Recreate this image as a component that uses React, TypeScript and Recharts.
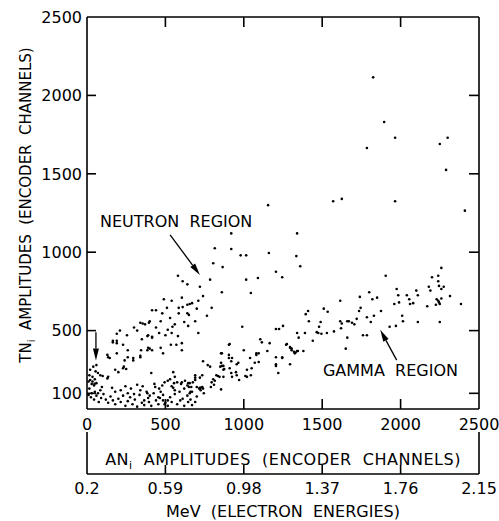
import { ScatterChart, Scatter, XAxis, YAxis, ReferenceLine, ReferenceDot } from 'recharts';

const FONT = '"DejaVu Sans", sans-serif';

// channel ticks (AN / TN) and the matching electron-energy labels
const chanTicks = [0, 500, 1000, 1500, 2000, 2500];
const tnTicks = [100, 500, 1000, 1500, 2000, 2500];
const mevLabels = ['0.2', '0.59', '0.98', '1.37', '1.76', '2.15'];

// upper band + isolated high points
const neutronAN = [
  1825, 1895, 1965, 2300, 1785, 2250, 2290, 1570, 1625, 1965, 1155, 2410, 1340, 920, 815, 920,
  980, 1015, 1160, 1335, 1360, 805, 865, 580, 610, 640, 720, 785, 860, 490, 540, 605,
  655, 670, 710, 415, 440, 510, 585, 610, 640, 795, 480, 530, 585, 640, 765, 1015,
  1090, 1045, 1205, 1245, 620, 645, 710, 340, 355, 370, 395, 400, 460, 515, 540, 580,
  605, 350, 385, 390, 415, 165, 190, 190, 230, 260, 295, 340, 390, 400, 470, 535,
  570, 605, 135, 145, 415, 165, 190, 385, 415, 345, 130, 190, 240, 260, 295, 340,
  485, 545, 990, 1905, 210, 255, 300, 320, 440, 470, 500, 560, 650, 690, 700, 740,
];
const neutronTN = [
  2115, 1830, 1730, 1730, 1665, 1690, 1525, 1325, 1340, 1325, 1300, 1265, 1120, 1120, 1025, 1020,
  980, 980, 995, 975, 910, 930, 905, 850, 815, 795, 780, 825, 745, 700, 690, 710,
  670, 675, 690, 630, 630, 645, 645, 650, 665, 645, 610, 580, 610, 610, 595, 825,
  835, 740, 875, 840, 555, 530, 485, 550, 545, 540, 550, 560, 485, 505, 485, 465,
  420, 445, 465, 470, 455, 435, 435, 480, 410, 375, 325, 340, 390, 385, 390, 410,
  410, 375, 330, 325, 460, 425, 420, 375, 375, 375, 345, 355, 310, 330, 310, 330,
  355, 525, 525, 850, 500, 470, 520, 500, 520, 560, 470, 540, 600, 560, 640, 720,
];

// lower band, including the dense low-amplitude cluster
const gammaAN = [
  2200, 2240, 2240, 2260, 2180, 2190, 2245, 2260, 2275, 2315, 2385, 2230, 2240, 2245, 2250, 2260,
  2225, 2170, 2250, 2100, 2110, 2040, 2055, 2060, 2080, 2110, 1975, 1985, 1990, 1960, 2010, 2015,
  1930, 1970, 1800, 1820, 1850, 1740, 1745, 1735, 1875, 1785, 1810, 1830, 1720, 1760, 1785, 1615,
  1660, 1670, 1690, 1705, 1625, 1620, 1660, 1650, 1615, 1510, 1535, 1575, 1530, 1465, 1480, 1490,
  1475, 1495, 1395, 1410, 1415, 1340, 1350, 1390, 1440, 1380, 1320, 1330, 1340, 1295, 1275, 1150,
  1080, 1095, 1080, 1295, 1305, 1325, 1345, 855, 905, 925, 920, 1040, 1095, 1205, 1205, 1245,
  740, 770, 785, 855, 850, 870, 870, 910, 965, 950, 1020, 1045, 1010, 970, 925, 690,
  690, 735, 825, 835, 845, 805, 815, 795, 870, 655, 665, 715, 725, 735, 740, 720,
  745, 790, 810, 855, 670, 655, 1105, 1115, 1165, 1205, 1225, 1250, 1270, 1295, 1305, 1245,
  1205, 1220, 1000, 905, 860, 860, 875, 905, 955, 920, 955, 1020, 1050, 1070, 720, 725,
  650, 660, 910,
  495, 515, 555, 575, 605, 625, 645, 675, 320, 355, 435, 540, 550, 560, 95, 85,
  70, 50, 30, 160, 180, 260, 385, 400, 390, 365, 455, 465, 485, 495, 515, 540,
  595, 610, 645, 670, 180, 200, 230, 235, 250, 410, 550, 70, 85, 100, 135, 130,
  20, 35, 50, 30, 45, 15, 60, 10, 25, 45, 60, 75, 90, 105, 120, 135,
  150, 165, 180, 200, 215, 230, 245, 260, 275, 290, 305, 320, 335, 350, 365, 380,
  395, 410, 425, 440, 455, 470, 485, 500, 515, 530, 560, 575, 590, 620, 640, 660,
  690, 700, 215, 245, 280, 300, 340, 430, 460, 480, 530, 560, 600, 620, 640, 690,
  700, 20, 40, 55, 15, 35, 60, 10, 48,
];
const gammaTN = [
  840, 850, 815, 900, 780, 755, 785, 765, 780, 720, 670, 700, 690, 680, 670, 705,
  665, 655, 555, 755, 725, 725, 700, 670, 675, 555, 765, 725, 680, 670, 595, 560,
  525, 530, 745, 700, 710, 715, 645, 625, 625, 585, 555, 595, 575, 470, 470, 560,
  560, 560, 550, 540, 545, 515, 455, 385, 690, 640, 620, 495, 485, 490, 525, 555,
  485, 480, 605, 625, 560, 485, 455, 485, 435, 370, 365, 360, 370, 285, 415, 370,
  355, 355, 345, 395, 385, 355, 370, 355, 345, 325, 305, 325, 300, 330, 285, 325,
  305, 280, 270, 295, 270, 275, 250, 260, 295, 235, 250, 215, 210, 185, 205, 215,
  200, 215, 215, 210, 205, 190, 180, 170, 205, 165, 140, 130, 120, 140, 130, 135,
  100, 140, 155, 125, 110, 100, 445, 425, 420, 510, 510, 530, 410, 390, 375, 330,
  275, 230, 375, 410, 355, 275, 255, 325, 285, 230, 215, 205, 260, 295, 200, 135,
  140, 110, 415,
  170, 180, 165, 170, 170, 180, 165, 170, 155, 145, 140, 145, 135, 120, 140, 120,
  100, 110, 100, 135, 110, 100, 100, 85, 70, 55, 75, 70, 55, 30, 55, 45,
  55, 65, 45, 25, 250, 235, 260, 270, 255, 230, 235, 230, 215, 210, 205, 195,
  185, 175, 190, 160, 150, 130, 165, 90, 75, 60, 85, 45, 70, 95, 60, 40,
  80, 55, 30, 65, 45, 85, 20, 50, 75, 30, 60, 15, 90, 40, 25, 110,
  45, 20, 100, 55, 30, 110, 90, 40, 20, 75, 95, 30, 110, 20, 85, 60,
  45, 80, 120, 145, 130, 95, 120, 160, 130, 150, 190, 205, 160, 130, 150, 185,
  140, 250, 270, 240, 215, 205, 280, 175, 160,
];

const toPoints = (xs: number[], ys: number[]) => xs.map((x, i) => ({ an: x, tn: ys[i] }));
const neutronData = toPoints(neutronAN, neutronTN);
const gammaData = toPoints(gammaAN, gammaTN);

// frame tick positions, drawn as marker shapes of their own series
const innerX = chanTicks.slice(1, -1);
const innerY = tnTicks.slice(0, -1);
const frameTicks = [
  ...innerX.map((v) => ({ an: v, tn: 0, dir: 'up' })),
  ...innerX.map((v) => ({ an: v, tn: 2500, dir: 'down' })),
  ...innerY.map((v) => ({ an: 0, tn: v, dir: 'right' })),
  ...innerY.map((v) => ({ an: 2500, tn: v, dir: 'left' })),
  ...[0, 2500].map((v) => ({ an: v, tn: 0, dir: 'bracket' })),
  ...innerX.map((v) => ({ an: v, tn: 0, dir: 'mev' })),
];

const STROKE = 1.6;
const frameLine = { stroke: '#000', strokeWidth: STROKE };

function FrameTick({ cx, cy, payload }: any) {
  let d = '';
  switch (payload.dir) {
    case 'up': d = `M${cx},${cy}V${cy - 10}`; break;
    case 'down': d = `M${cx},${cy}V${cy + 10}`; break;
    case 'right': d = `M${cx},${cy}H${cx + 9}`; break;
    case 'left': d = `M${cx},${cy}H${cx - 10}`; break;
    case 'bracket': d = `M${cx},${cy + 23}V${cy + 65}`; break;
    case 'mev': d = `M${cx},${cy + 56}V${cy + 65}`; break;
  }
  return <path d={d} stroke="#000" strokeWidth={STROKE} fill="none" />;
}

function BottomTick({ x, y, payload }: any) {
  return (
    <text x={x} y={y + 21} textAnchor="middle" fontFamily={FONT} fontSize={16} fill="#000">
      {payload.value}
    </text>
  );
}

function LeftTick({ x, y, payload }: any) {
  return (
    <text x={x - 5} y={y} dy="0.36em" textAnchor="end" fontFamily={FONT} fontSize={16} fill="#000">
      {payload.value}
    </text>
  );
}

function MevTick({ x, y, payload }: any) {
  const i = chanTicks.indexOf(payload.value);
  return (
    <text x={x} y={y + 20} textAnchor="middle" fontFamily={FONT} fontSize={16} fill="#000">
      {mevLabels[i]}
    </text>
  );
}

const NoTick = () => <g />;

function Arrow({ x1, y1, x2, y2 }: any) {
  const ang = Math.atan2(y2 - y1, x2 - x1);
  const len = 12;
  const half = 3;
  const bx = x2 - len * Math.cos(ang);
  const by = y2 - len * Math.sin(ang);
  const px = -Math.sin(ang) * half;
  const py = Math.cos(ang) * half;
  return (
    <g>
      <line x1={x1} y1={y1} x2={bx} y2={by} stroke="#000" strokeWidth={1.3} />
      <polygon points={`${x2},${y2} ${bx + px},${by + py} ${bx - px},${by - py}`} fill="#000" />
    </g>
  );
}

const textLabel = (value: string) => ({ viewBox }: any) => (
  <text
    x={viewBox.x}
    y={viewBox.y}
    dy="0.36em"
    fontFamily={FONT}
    fontSize={16}
    fill="#000"
    style={{ whiteSpace: 'pre' }}
  >
    {value}
  </text>
);

const dot = (props: any) => <circle cx={props.cx} cy={props.cy} r={1.3} fill="#000" />;
const noDot = () => <g />;

export default function App() {
  return (
    <div style={{ position: 'absolute', left: 0, top: 0, background: '#fff' }}>
      <ScatterChart width={499} height={521} margin={{ top: 10, right: 10, bottom: 0, left: 27 }}>
        <XAxis
          xAxisId="an"
          dataKey="an"
          type="number"
          domain={[0, 2500]}
          ticks={chanTicks}
          height={65}
          tickSize={0}
          tickMargin={0}
          tickLine={false}
          axisLine={frameLine}
          tick={BottomTick}
          label={({ viewBox }: any) => (
            <text
              x={viewBox.x + viewBox.width / 2}
              y={viewBox.y + 56}
              textAnchor="middle"
              fontFamily={FONT}
              fontSize={16}
              letterSpacing={0.5}
              fill="#000"
              style={{ whiteSpace: 'pre' }}
            >
              AN<tspan fontSize={11} dy={4}>i</tspan>
              <tspan dy={-4}>{'  AMPLITUDES  (ENCODER  CHANNELS)'}</tspan>
            </text>
          )}
        />
        <XAxis
          xAxisId="mev"
          dataKey="an"
          type="number"
          domain={[0, 2500]}
          ticks={chanTicks}
          height={47}
          tickSize={0}
          tickMargin={0}
          tickLine={false}
          axisLine={frameLine}
          tick={MevTick}
          label={({ viewBox }: any) => (
            <text
              x={viewBox.x + viewBox.width / 2}
              y={viewBox.y + 43}
              textAnchor="middle"
              fontFamily={FONT}
              fontSize={16}
              fill="#000"
              style={{ whiteSpace: 'pre' }}
            >
              {'MeV  (ELECTRON  ENERGIES)'}
            </text>
          )}
        />
        <XAxis
          xAxisId="top"
          orientation="top"
          dataKey="an"
          type="number"
          domain={[0, 2500]}
          ticks={chanTicks}
          height={7}
          tickLine={false}
          axisLine={frameLine}
          tick={NoTick}
        />
        <YAxis
          yAxisId="tn"
          dataKey="tn"
          type="number"
          domain={[0, 2500]}
          ticks={tnTicks}
          width={60}
          tickSize={0}
          tickMargin={0}
          tickLine={false}
          axisLine={frameLine}
          tick={LeftTick}
          label={({ viewBox }: any) => {
            const cx = viewBox.x + 4;
            const cy = viewBox.y + viewBox.height / 2 - 8;
            return (
              <text
                x={cx}
                y={cy}
                transform={`rotate(-90, ${cx}, ${cy})`}
                textAnchor="middle"
                fontFamily={FONT}
                fontSize={15}
                fill="#000"
                style={{ whiteSpace: 'pre' }}
              >
                TN<tspan fontSize={10} dy={4}>i</tspan>
                <tspan dy={-4}>{'  AMPLITUDES  (ENCODER  CHANNELS)'}</tspan>
              </text>
            );
          }}
        />
        <YAxis
          yAxisId="right"
          orientation="right"
          dataKey="tn"
          type="number"
          domain={[0, 2500]}
          ticks={tnTicks}
          width={10}
          tickLine={false}
          axisLine={frameLine}
          tick={NoTick}
        />
        <Scatter xAxisId="an" yAxisId="tn" data={gammaData} shape={dot} isAnimationActive={false} />
        <Scatter xAxisId="an" yAxisId="tn" data={neutronData} shape={dot} isAnimationActive={false} />
        <Scatter xAxisId="an" yAxisId="tn" data={frameTicks} shape={FrameTick} isAnimationActive={false} />
        {/* invisible copies so the frame / MeV axes get their scales and ticks */}
        <Scatter xAxisId="top" yAxisId="right" data={neutronData} shape={noDot} isAnimationActive={false} />
        <Scatter xAxisId="mev" yAxisId="tn" data={neutronData} shape={noDot} isAnimationActive={false} />

        <ReferenceLine
          xAxisId="an"
          yAxisId="tn"
          segment={[{ x: 530, y: 1110 }, { x: 720, y: 855 }]}
          shape={Arrow}
        />
        <ReferenceLine
          xAxisId="an"
          yAxisId="tn"
          segment={[{ x: 1975, y: 312 }, { x: 1870, y: 505 }]}
          shape={Arrow}
        />
        <ReferenceLine
          xAxisId="an"
          yAxisId="tn"
          segment={[{ x: 57, y: 490 }, { x: 57, y: 310 }]}
          shape={Arrow}
        />
        <ReferenceDot
          xAxisId="an"
          yAxisId="tn"
          x={83}
          y={1195}
          r={0}
          fill="none"
          stroke="none"
          label={textLabel('NEUTRON  REGION')}
        />
        <ReferenceDot
          xAxisId="an"
          yAxisId="tn"
          x={1505}
          y={250}
          r={0}
          fill="none"
          stroke="none"
          label={textLabel('GAMMA  REGION')}
        />
      </ScatterChart>
    </div>
  );
}
